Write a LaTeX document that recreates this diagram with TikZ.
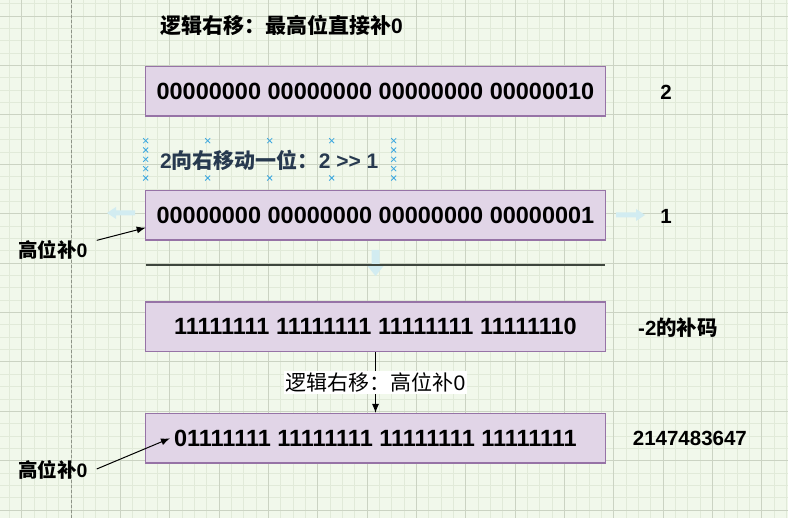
\documentclass[tikz,border=0pt]{standalone}
\usepackage{fontspec}
\setmainfont{Liberation Sans}
\newfontfamily\cjk{Noto Sans CJK SC}
\usetikzlibrary{arrows.meta}
\definecolor{bggreen}{HTML}{F1F8EB}
\definecolor{gridminor}{HTML}{E1EAD9}
\definecolor{gridmajor}{HTML}{CBD3C3}
\definecolor{boxfill}{HTML}{E1D5E7}
\definecolor{boxline}{HTML}{9673A6}
\definecolor{hintblue}{HTML}{D2ECF1}
\definecolor{crossblue}{HTML}{3FA9E0}
\definecolor{seltext}{HTML}{27394F}
\definecolor{sepgray}{HTML}{3E463E}

\begin{document}
\begin{tikzpicture}[x=1pt, y=-1pt,
    bitbox/.style={draw=boxline, fill=boxfill, line width=1.2pt, minimum width=460pt, minimum height=49.5pt, inner sep=0pt, font=\bfseries\fontsize{23.5}{26}\selectfont},
    tag/.style={inner sep=0pt, font=\bfseries\fontsize{20.5}{24}\selectfont},
    ptr/.style={-{Latex[length=9pt, width=7pt]}, line width=1pt},
    hint/.style={fill=hintblue, draw=none},
    cross/.style={crossblue, line width=0.8pt}]
\useasboundingbox (0,0) rectangle (788,518);

% --- 背景とグリッド ---
\fill[bggreen] (0,0) rectangle (788,518);
\foreach \i in {-1,...,62} {
    \draw[gridminor, line width=0.6pt] ({21.7+12.33*\i},0) -- ({21.7+12.33*\i},518);
}
\foreach \j in {-1,...,41} {
    \draw[gridminor, line width=0.6pt] (0,{16+12.35*\j}) -- (788,{16+12.35*\j});
}
\foreach \i in {0,...,15} {
    \draw[gridmajor, line width=0.8pt] ({21.7+49.33*\i},0) -- ({21.7+49.33*\i},518);
}
\foreach \j in {0,...,10} {
    \draw[gridmajor, line width=0.8pt] (0,{16+49.4*\j}) -- (788,{16+49.4*\j});
}
\draw[gridmajor!70!black, line width=0.8pt, dash pattern=on 3pt off 2pt] (71.3,0) -- (71.3,518);

    % --- タイトル ---
    \node[anchor=west, inner sep=0pt, font=\bfseries\fontsize{21}{24}\selectfont] (title) at (160,25) {{\cjk 逻辑右移：最高位直接补}0};

    % --- ビット列の箱 ---
    \node[bitbox] (bintwo) at (375.5,91.3) {00000000 00000000 00000000 00000010};
    \node[bitbox] (binone) at (375.5,215.3) {00000000 00000000 00000000 00000001};
    \node[bitbox] (binneg) at (375.5,326.7) {11111111 11111111 11111111 11111110};
    \node[bitbox] (binmax) at (375.5,438.3) {01111111 11111111 11111111 11111111};

    % --- 右側の値 ---
    \node[tag] (valtwo) at (666,92) {2};
    \node[tag] (valone) at (666,216) {1};
    \node[tag, anchor=west] (valneg) at (638,328) {-2{\cjk 的补码}};
    \node[tag, anchor=west] (valmax) at (632.7,438) {2147483647};

    % --- 選択中のテキストと接続点 ---
    \node[anchor=west, inner sep=0pt, text=seltext, font=\bfseries\fontsize{21}{24}\selectfont] (shift) at (160,160) {2{\cjk 向右移动一位：}2 >{}> 1};
    \foreach \cx in {145.7,393.7} {
        \foreach \cy in {140.7,150,159.3,168.7,178} {
            \draw[cross, shift={(\cx,\cy)}] (-2.5,-2.5) -- (2.5,2.5) (-2.5,2.5) -- (2.5,-2.5);
        }
    }
    \foreach \cx in {207.7,269.7,331.7} {
        \foreach \cy in {140.7,178} {
            \draw[cross, shift={(\cx,\cy)}] (-2.5,-2.5) -- (2.5,2.5) (-2.5,2.5) -- (2.5,-2.5);
        }
    }

    % --- うすい矢印 ---
    \fill[hint] (107,213) -- (116,207) -- (116,210.5) -- (135,210.5) -- (135,215.5) -- (116,215.5) -- (116,219) -- cycle;
    \fill[hint] (645,215) -- (636,209) -- (636,212.5) -- (616,212.5) -- (616,217.5) -- (636,217.5) -- (636,221) -- cycle;
    \fill[hint] (375.5,276) -- (367.5,266) -- (371.5,266) -- (371.5,250) -- (379.5,250) -- (379.5,266) -- (383.5,266) -- cycle;

    % --- 区切り線 ---
    \coordinate (sepL) at (145.5,264.7);
    \coordinate (sepR) at (605,264.7);
    \draw[sepgray, line width=1.8pt] (sepL) -- (sepR);

    % --- 左側のラベルと矢印 ---
    \node[tag, anchor=west, font=\bfseries\fontsize{19.5}{22}\selectfont] (padone) at (18,250) {{\cjk 高位补}0};
    \node[tag, anchor=west, font=\bfseries\fontsize{19.5}{22}\selectfont] (padtwo) at (18,470) {{\cjk 高位补}0};
    \coordinate (padonetip) at (145.7,227.7);
    \coordinate (padtwotip) at (170,438.3);
    \draw[ptr] ([xshift=9pt]padone.north east) -- (padonetip);
    \draw[ptr] ([xshift=9pt, yshift=1pt]padtwo.east) -- (padtwotip);

    % --- 論理右シフトの矢印 ---
    \draw[ptr] (binneg.south) -- node[fill=white, inner sep=1.5pt, font=\fontsize{21}{24}\selectfont] (shiftnote) {{\cjk 逻辑右移：高位补}0} (binmax.north);

\end{tikzpicture}
\end{document}
